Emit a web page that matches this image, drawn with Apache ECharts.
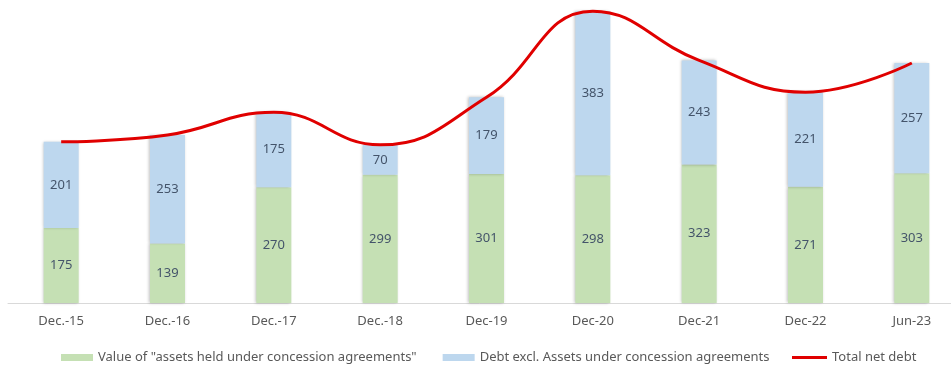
<!DOCTYPE html>
<html>
<head>
<meta charset="utf-8">
<script src="https://cdn.jsdelivr.net/npm/echarts@6/dist/echarts.min.js"></script>
<style>html,body{margin:0;padding:0;background:#fff;}#c{width:951px;height:366px;}</style>
</head>
<body>
<div id="c"></div>
<script>
const categories = ['Dec.-15','Dec.-16','Dec.-17','Dec.-18','Dec-19','Dec-20','Dec-21','Dec-22','Jun-23'];
const assetsConcession = [175,139,270,299,301,298,323,271,303];
const debtExcl = [201,253,175,70,179,383,243,221,257];
const totalNetDebt = [376,392,445,369,480,681,566,492,560];

const chart = echarts.init(document.getElementById('c'));
const font = '"Noto Sans", sans-serif';
const barShadow = {shadowColor:'rgba(0,0,0,0.25)', shadowBlur:3, shadowOffsetX:-1};
const legendText = {color:'#595959', fontSize:13, fontFamily:font};
chart.setOption({
  animation:false,
  grid:{left:8, width:957, top:3, height:300, outerBoundsMode:'none', containLabel:false},
  xAxis:{
    type:'category', data:categories,
    axisLine:{lineStyle:{color:'#d9d9d9', width:1}},
    axisTick:{show:false},
    axisLabel:{color:'#595959', fontSize:13, fontFamily:font, margin:12}
  },
  yAxis:{type:'value', min:0, max:700, show:false, splitLine:{show:false}},
  legend:[
    {
      left:56, top:346, itemWidth:32, itemHeight:7, itemGap:26, textStyle:legendText,
      data:[
        {name:'Value of "assets held under concession agreements"', icon:'rect'},
        {name:'Debt excl. Assets under concession agreements', icon:'rect'}
      ]
    },
    {
      left:787, top:346, itemWidth:35, itemHeight:3, textStyle:legendText,
      data:[{name:'Total net debt', icon:'rect'}]
    }
  ],
  series:[
    {name:'Value of "assets held under concession agreements"', type:'bar', stack:'a', barWidth:35,
     data:assetsConcession, itemStyle:Object.assign({color:'#c5e0b4'}, barShadow),
     label:{show:true, position:'inside', color:'#44546a', fontSize:13, fontFamily:font}},
    {name:'Debt excl. Assets under concession agreements', type:'bar', stack:'a', barWidth:35,
     data:debtExcl, itemStyle:Object.assign({color:'#bdd7ee'}, barShadow),
     label:{show:true, position:'inside', color:'#44546a', fontSize:13, fontFamily:font}},
    {name:'Total net debt', type:'line', data:totalNetDebt, smooth:0.45, symbol:'none',
     lineStyle:{color:'#e00000', width:3}, itemStyle:{color:'#e00000'}, z:5}
  ]
});
</script>
</body>
</html>
